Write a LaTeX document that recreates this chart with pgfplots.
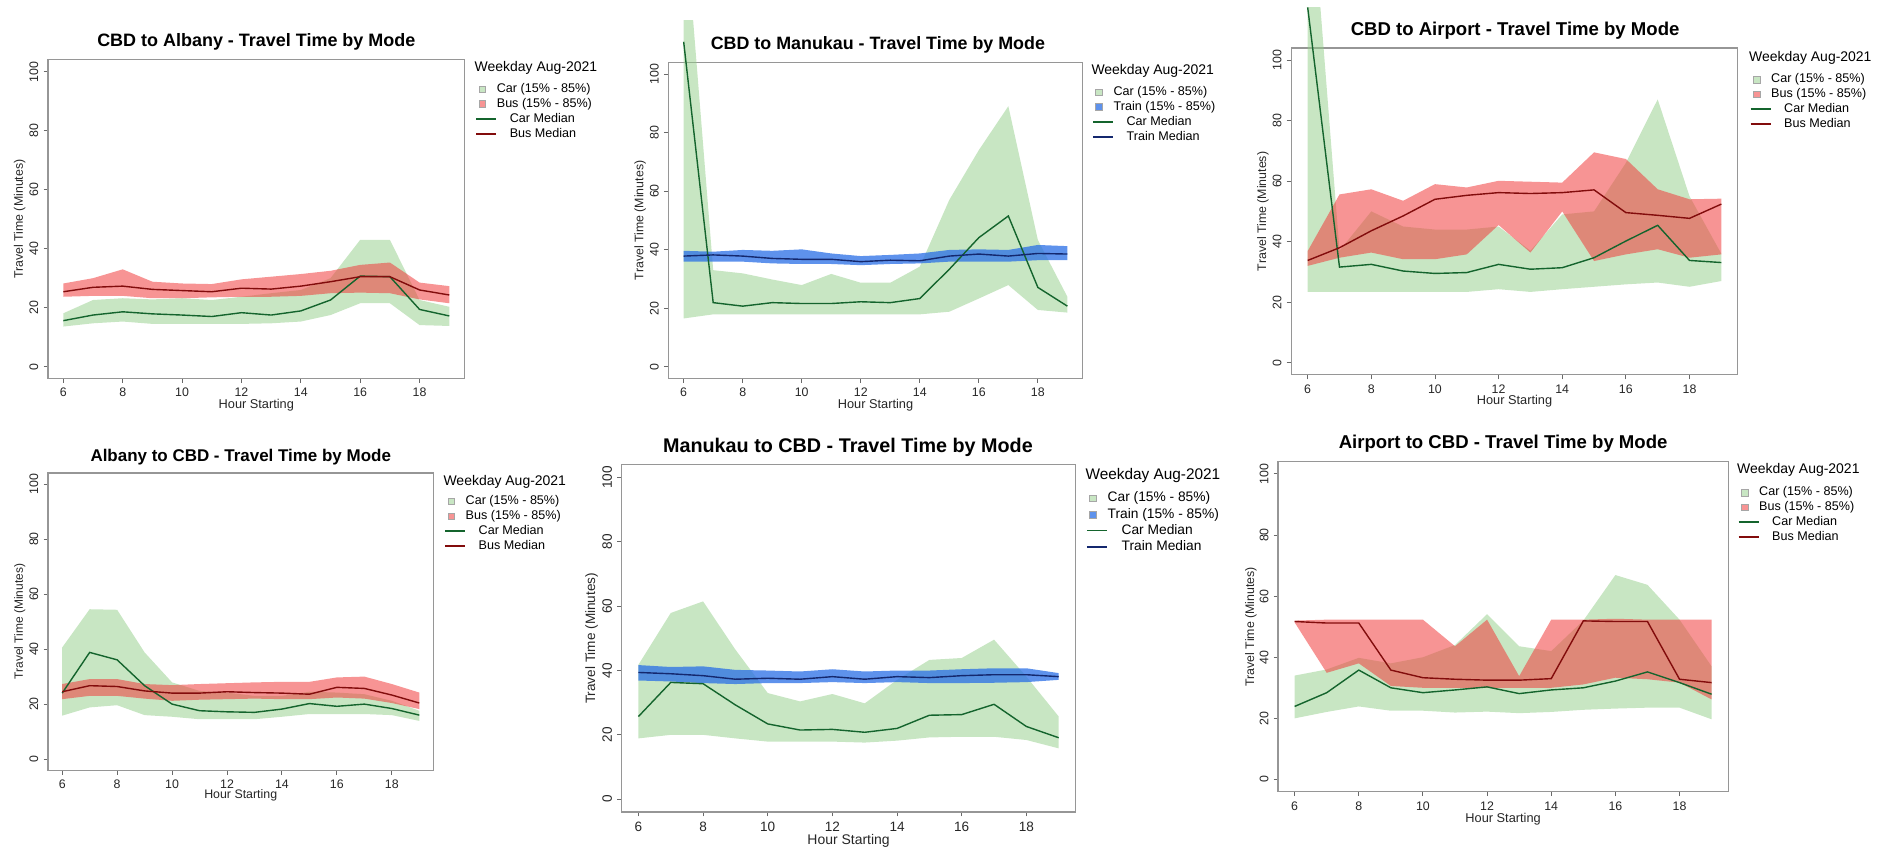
\documentclass[border=0pt]{standalone}
\usepackage{fontspec}
\setmainfont{Liberation Sans}
\usepackage{pgfplots}
\pgfplotsset{compat=1.18}
\usepackage{pgfplotstable}
\usepgfplotslibrary{fillbetween}

\definecolor{carband}{RGB}{145,205,135}
\definecolor{busband}{RGB}{240,60,60}
\definecolor{trainband}{RGB}{40,110,230}
\definecolor{carmed}{RGB}{20,100,45}
\definecolor{busmed}{RGB}{130,12,12}
\definecolor{trainmed}{RGB}{20,40,110}
\definecolor{boxgray}{RGB}{150,150,150}

% CBD to Albany
\pgfplotstableread{
h clo chi cmed blo bhi bmed
6 13.6 18.1 15.6 23.7 28.2 25.4
7 14.7 22.6 17.5 24.0 30.0 26.9
8 15.3 23.2 18.6 24.0 33.0 27.3
9 14.5 22.8 17.9 23.2 28.8 26.2
10 14.5 23.2 17.5 23.2 28.2 25.8
11 14.5 22.6 17.0 23.5 28.0 25.4
12 14.5 23.7 18.3 23.7 29.6 26.6
13 14.7 24.9 17.5 23.7 30.5 26.3
14 15.3 26.0 18.9 24.0 31.4 27.3
15 17.5 30.0 22.6 24.9 32.5 28.8
16 21.5 43.0 30.7 25.1 34.5 30.5
17 21.5 43.0 30.5 24.9 35.3 30.5
18 14.1 22.6 19.4 22.8 28.5 26.0
19 13.8 20.3 17.2 21.5 27.3 24.3
}\tabA
% CBD to Manukau
\pgfplotstableread{
h clo chi cmed tlo thi tmed
6 16.5 158.6 111.0 35.9 39.6 37.8
7 17.9 33.0 21.9 35.9 39.3 38.2
8 17.9 31.9 20.7 35.9 39.9 37.8
9 17.9 29.8 21.9 35.3 39.6 37.0
10 17.9 27.9 21.6 35.1 40.1 36.7
11 17.9 31.7 21.6 35.1 38.7 36.7
12 17.9 28.7 22.2 34.7 37.8 35.9
13 17.9 28.7 21.9 35.1 38.2 36.4
14 17.9 34.2 23.3 35.3 38.7 36.2
15 18.8 57.0 33.3 35.9 39.9 37.8
16 23.3 74.0 44.1 35.9 40.1 38.5
17 27.9 89.0 51.5 35.9 39.9 37.8
18 19.4 43.3 27.1 36.4 41.6 38.7
19 18.5 23.9 20.7 36.4 41.2 38.5
}\tabB
% CBD to Airport
\pgfplotstableread{
h clo chi cmed blo bhi bmed
6 23.4 171.0 117.4 32.0 36.9 33.8
7 23.4 37.0 31.6 34.7 55.6 38.0
8 23.4 50.0 32.5 36.4 57.3 43.6
9 23.4 45.0 30.3 34.2 53.5 48.5
10 23.4 44.0 29.5 34.2 59.0 54.0
11 23.4 44.0 29.8 35.8 57.9 55.3
12 24.3 45.0 32.5 45.5 60.1 56.2
13 23.4 37.0 30.9 36.4 59.8 55.9
14 24.3 49.0 31.4 50.0 59.5 56.2
15 25.1 50.0 34.7 33.6 69.5 57.1
16 25.9 66.0 40.2 35.8 67.3 49.6
17 26.5 87.0 45.4 37.5 57.3 48.7
18 25.1 55.0 33.8 34.7 54.0 47.7
19 27.0 36.0 33.1 35.8 54.2 52.4
}\tabC
% Albany to CBD
\pgfplotstableread{
h clo chi cmed blo bhi bmed
6 15.8 40.6 24.0 21.8 27.3 24.5
7 18.8 54.5 38.8 23.0 29.1 26.7
8 19.6 54.3 36.1 23.0 29.1 26.4
9 16.0 38.8 26.7 22.0 27.3 24.8
10 15.4 27.9 20.0 21.2 26.9 24.0
11 14.5 24.8 17.6 21.6 27.3 24.0
12 14.5 24.2 17.2 21.8 27.6 24.5
13 14.5 23.0 17.0 22.0 27.9 24.2
14 15.4 23.0 18.2 21.8 28.1 24.0
15 16.4 24.5 20.2 21.8 28.1 23.6
16 16.4 24.2 19.2 22.4 29.7 26.1
17 16.4 23.6 20.0 22.0 30.0 25.7
18 16.0 21.2 18.4 20.4 27.3 23.3
19 13.9 17.6 16.0 18.2 24.2 20.4
}\tabD
% Manukau to CBD
\pgfplotstableread{
h clo chi cmed tlo thi tmed
6 18.9 41.8 25.7 36.9 41.7 39.4
7 20.0 57.9 36.3 36.6 41.1 39.0
8 20.0 61.5 35.9 36.1 41.3 38.4
9 18.9 46.5 29.3 35.8 40.2 37.3
10 17.9 33.0 23.4 36.1 40.0 37.6
11 17.9 30.4 21.5 36.1 39.7 37.3
12 17.9 32.7 21.7 36.4 40.4 38.1
13 17.6 29.8 20.8 36.1 39.7 37.3
14 18.2 37.1 22.0 36.4 40.0 38.1
15 19.2 43.3 26.1 36.1 40.0 37.8
16 19.4 43.9 26.3 36.1 40.4 38.4
17 19.4 49.6 29.5 36.2 40.7 38.7
18 18.4 38.1 22.6 36.4 40.7 38.7
19 15.8 25.7 19.1 37.1 39.2 38.1
}\tabE
% Airport to CBD
\pgfplotstableread{
h clo chi cmed blo bhi bmed
6 20.0 34.0 23.9 51.4 52.0 51.7
7 22.1 36.0 28.4 34.9 52.3 51.2
8 23.9 39.8 35.8 38.0 52.3 51.2
9 22.5 38.0 30.0 30.6 52.3 35.8
10 22.5 40.0 28.4 30.0 52.3 33.3
11 21.9 44.0 29.3 30.0 43.6 32.8
12 22.2 54.1 30.3 30.0 52.3 32.5
13 21.7 43.6 28.1 30.0 33.8 32.5
14 22.1 42.0 29.3 30.0 52.3 33.0
15 22.8 52.0 30.0 31.1 52.3 51.9
16 23.2 66.9 32.2 33.3 52.6 51.7
17 23.5 63.7 35.2 32.8 52.3 51.7
18 23.5 52.3 31.7 31.7 52.3 32.8
19 19.7 37.0 27.9 26.2 52.3 31.7
}\tabF

\tikzset{
  carB/.style={fill=carband, fill opacity=0.5},
  busB/.style={fill=busband, fill opacity=0.55},
  trainB/.style={fill=trainband, fill opacity=0.75},
  carM/.style={draw=carmed, line width=0.7pt},
  busM/.style={draw=busmed, line width=0.7pt},
  trainM/.style={draw=trainmed, line width=0.7pt},
}

\newcommand{\band}[5]{%
  \addplot[draw=none, name path=#5lo, forget plot] table[x=h,y=#2]{#1};
  \addplot[draw=none, name path=#5hi, forget plot] table[x=h,y=#3]{#1};
  \addplot[#4, draw=none, forget plot] fill between[of=#5lo and #5hi];}

\newcommand{\sqimg}[1]{\addlegendimage{legend image code/.code={%
   \path[draw=none, fill=none] (0pt,0pt) -- (10pt,0pt);
   \draw[#1, draw=gray!70, line width=0.3pt] (1.4pt,-1.7pt) rectangle (4.8pt,1.7pt);}}}
\newcommand{\lnimg}[1]{\addlegendimage{legend image code/.code={%
   \draw[#1] (0pt,0pt) -- (10pt,0pt);}}}

\newcommand{\labs}[4]{%
  \node[font=\fontsize{#3}{#3}\selectfont, text=black!85] at ([yshift=#1]rel axis cs:0.5,0) {Hour Starting};
  \node[font=\fontsize{#4}{#4}\selectfont, text=black!85, rotate=90] at ([xshift=#2]rel axis cs:0,0.5) {Travel Time (Minutes)};}

\pgfplotsset{
  panel/.style={
    scale only axis, anchor=south west,
    xmin=5.48, xmax=19.52, ymin=-4, ymax=104,
    xtick={6,8,...,18}, ytick={0,20,...,100},
    tick pos=left, tick align=outside, major tick length=2.2pt,
    axis line style={boxgray, line width=0.6pt},
    tick style={boxgray!70!black, line width=0.45pt},
    /pgf/number format/assume math mode=true,
    tick label style={font=\fontsize{6.2}{7}\selectfont, text=black!85, inner sep=0pt},
    xticklabel style={anchor=north, yshift=-2.55pt},
    yticklabel style={xshift=-2.4pt, rotate=90, anchor=south},
    clip=false,
    legend cell align=left,
    legend style={draw=none, fill=none, anchor=north west, inner sep=0pt, outer sep=0pt,
      row sep=1.74pt, font=\fontsize{6.3}{7}\selectfont,
      nodes={inner sep=0pt, text height=4.5pt, text depth=1.2pt}},
  },
  ovl/.style={scale only axis, anchor=south west, xmin=5.48, xmax=19.52, ymin=-4,
    axis lines=none, ticks=none, clip=true},
}

\begin{document}
\begin{tikzpicture}

% ---------------- P1 CBD to Albany
\begin{axis}[panel, at={(24pt,236.4pt)}, width=208.8pt, height=159.6pt,
  legend style={at={(1.0259,0.9254)}}]
\band{\tabA}{clo}{chi}{carB}{aC}
\band{\tabA}{blo}{bhi}{busB}{aB}
\addplot[carM, forget plot] table[x=h,y=cmed]{\tabA};
\addplot[busM, forget plot] table[x=h,y=bmed]{\tabA};
\sqimg{carB}\addlegendentry{Car (15\% - 85\%)}
\sqimg{busB}\addlegendentry{Bus (15\% - 85\%)}
\lnimg{carM}\addlegendentry{\hspace*{6.5pt}Car Median}
\lnimg{busM}\addlegendentry{\hspace*{6.5pt}Bus Median}
\labs{-13.2pt}{-14.1pt}{6.4}{6.2}
\end{axis}

% ---------------- P2 CBD to Manukau
\begin{axis}[ovl, at={(334.8pt,236.4pt)}, width=207.6pt, height=179.52pt, ymax=118.4]
\band{\tabB}{clo}{chi}{carB}{bC}
\end{axis}
\begin{axis}[panel, at={(334.8pt,236.4pt)}, width=207.6pt, height=158.4pt,
  legend style={at={(1.0231,0.923)}}]
\band{\tabB}{tlo}{thi}{trainB}{bT}
\addplot[carM, forget plot] table[x=h,y=cmed]{\tabB};
\addplot[trainM, forget plot] table[x=h,y=tmed]{\tabB};
\sqimg{carB}\addlegendentry{Car (15\% - 85\%)}
\sqimg{trainB}\addlegendentry{Train (15\% - 85\%)}
\lnimg{carM}\addlegendentry{\hspace*{6.5pt}Car Median}
\lnimg{trainM}\addlegendentry{\hspace*{6.5pt}Train Median}
\labs{-13.2pt}{-14.1pt}{6.4}{6.2}
\end{axis}

% ---------------- P3 CBD to Airport
\begin{axis}[ovl, at={(646.8pt,238.2pt)}, width=223.8pt, height=184.28pt, ymax=117.5]
\band{\tabC}{clo}{chi}{carB}{cC}
\end{axis}
\begin{axis}[panel, at={(646.8pt,238.2pt)}, width=223.8pt, height=163.8pt,
  legend style={at={(1.0268,0.921)}}]
\band{\tabC}{blo}{bhi}{busB}{cB}
\addplot[carM, forget plot] table[x=h,y=cmed]{\tabC};
\addplot[busM, forget plot] table[x=h,y=bmed]{\tabC};
\sqimg{carB}\addlegendentry{Car (15\% - 85\%)}
\sqimg{busB}\addlegendentry{Bus (15\% - 85\%)}
\lnimg{carM}\addlegendentry{\hspace*{6.5pt}Car Median}
\lnimg{busM}\addlegendentry{\hspace*{6.5pt}Bus Median}
\labs{-13.2pt}{-14.1pt}{6.4}{6.2}
\end{axis}

% ---------------- P4 Albany to CBD
\begin{axis}[panel, at={(24pt,40.2pt)}, width=193.2pt, height=148.8pt,
  legend style={at={(1.028,0.924)}}]
\band{\tabD}{clo}{chi}{carB}{dC}
\band{\tabD}{blo}{bhi}{busB}{dB}
\addplot[carM, forget plot] table[x=h,y=cmed]{\tabD};
\addplot[busM, forget plot] table[x=h,y=bmed]{\tabD};
\sqimg{carB}\addlegendentry{Car (15\% - 85\%)}
\sqimg{busB}\addlegendentry{Bus (15\% - 85\%)}
\lnimg{carM}\addlegendentry{\hspace*{6.5pt}Car Median}
\lnimg{busM}\addlegendentry{\hspace*{6.5pt}Bus Median}
\labs{-12.6pt}{-14.1pt}{6.2}{6.0}
\end{axis}

% ---------------- P5 Manukau to CBD
\begin{axis}[panel, at={(311.4pt,19.2pt)}, width=227.4pt, height=174pt,
  tick label style={font=\fontsize{6.8}{7.5}\selectfont},
  legend style={at={(1.0237,0.921)}, row sep=1.9pt, font=\fontsize{6.9}{7.5}\selectfont,
    nodes={text height=4.9pt, text depth=1.3pt}}]
\band{\tabE}{clo}{chi}{carB}{eC}
\band{\tabE}{tlo}{thi}{trainB}{eT}
\addplot[carM, forget plot] table[x=h,y=cmed]{\tabE};
\addplot[trainM, forget plot] table[x=h,y=tmed]{\tabE};
\sqimg{carB}\addlegendentry{Car (15\% - 85\%)}
\sqimg{trainB}\addlegendentry{Train (15\% - 85\%)}
\lnimg{carM}\addlegendentry{\hspace*{7pt}Car Median}
\lnimg{trainM}\addlegendentry{\hspace*{7pt}Train Median}
\labs{-14.4pt}{-15pt}{7.0}{6.8}
\end{axis}

% ---------------- P6 Airport to CBD
\begin{axis}[panel, at={(640.2pt,29.4pt)}, width=225.6pt, height=165.3pt,
  legend style={at={(1.0213,0.924)}}]
\band{\tabF}{clo}{chi}{carB}{fC}
\band{\tabF}{blo}{bhi}{busB}{fB}
\addplot[carM, forget plot] table[x=h,y=cmed]{\tabF};
\addplot[busM, forget plot] table[x=h,y=bmed]{\tabF};
\sqimg{carB}\addlegendentry{Car (15\% - 85\%)}
\sqimg{busB}\addlegendentry{Bus (15\% - 85\%)}
\lnimg{carM}\addlegendentry{\hspace*{6.5pt}Car Median}
\lnimg{busM}\addlegendentry{\hspace*{6.5pt}Bus Median}
\labs{-13.8pt}{-13.5pt}{6.4}{6.2}
\end{axis}

% titles
\node[font=\bfseries\fontsize{9}{10}\selectfont] at (128.4pt,405pt) {CBD to Albany - Travel Time by Mode};
\node[font=\bfseries\fontsize{8.95}{10}\selectfont] at (439.8pt,403.4pt) {CBD to Manukau - Travel Time by Mode};
\node[font=\bfseries\fontsize{9.3}{10}\selectfont] at (759pt,410.6pt) {CBD to Airport - Travel Time by Mode};
\node[font=\bfseries\fontsize{8.5}{10}\selectfont] at (120.6pt,197pt) {Albany to CBD - Travel Time by Mode};
\node[font=\bfseries\fontsize{9.9}{11}\selectfont] at (424.8pt,202.1pt) {Manukau to CBD - Travel Time by Mode};
\node[font=\bfseries\fontsize{9.3}{10}\selectfont] at (753pt,203.6pt) {Airport to CBD - Travel Time by Mode};

% legend titles
\node[anchor=west, inner sep=0pt, font=\fontsize{7}{8}\selectfont] at (237.6pt,391.8pt) {Weekday Aug-2021};
\node[anchor=west, inner sep=0pt, font=\fontsize{7}{8}\selectfont] at (546.6pt,390.6pt) {Weekday Aug-2021};
\node[anchor=west, inner sep=0pt, font=\fontsize{7}{8}\selectfont] at (876pt,397.2pt) {Weekday Aug-2021};
\node[anchor=west, inner sep=0pt, font=\fontsize{7}{8}\selectfont] at (222pt,184.4pt) {Weekday Aug-2021};
\node[anchor=west, inner sep=0pt, font=\fontsize{7.7}{8.5}\selectfont] at (543.6pt,188pt) {Weekday Aug-2021};
\node[anchor=west, inner sep=0pt, font=\fontsize{7}{8}\selectfont] at (870pt,190.4pt) {Weekday Aug-2021};

\pgfresetboundingbox
\useasboundingbox (0,0) rectangle (940.8pt,426pt);
\end{tikzpicture}
\end{document}
